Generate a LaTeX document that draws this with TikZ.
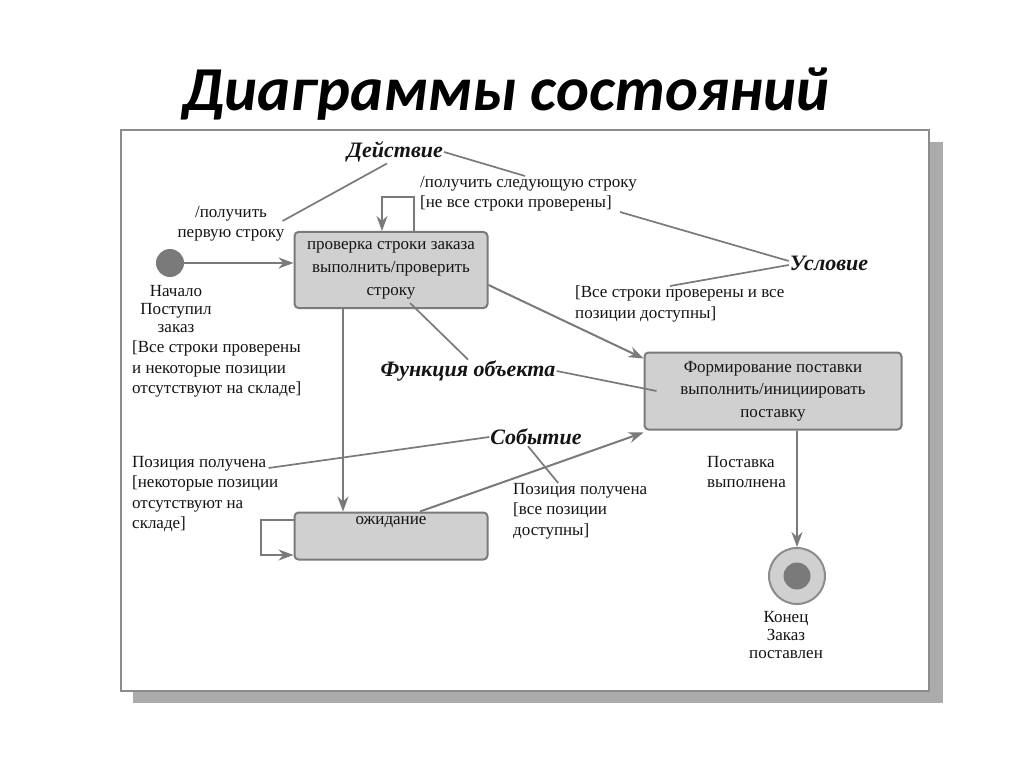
\documentclass[tikz,border=0pt]{standalone}
\usepackage{fontspec}
\setmainfont{Liberation Serif}
\newfontfamily\titlefont{Carlito}
\usetikzlibrary{arrows.meta,positioning}

\definecolor{boxgray}{HTML}{D0D0D0}
\definecolor{linegray}{HTML}{7A7A7A}
\definecolor{framegray}{HTML}{8C8C8C}
\definecolor{shadowgray}{HTML}{ABABAB}
\definecolor{inkgray}{HTML}{141414}

\tikzset{
  statebox/.style={draw=linegray, line width=2pt, fill=boxgray, rounded corners=4pt,
    text=inkgray, inner sep=2pt},
  trans/.style={draw=linegray, line width=2pt, -{Stealth[length=15pt,width=11pt]}},
  note/.style={draw=linegray, line width=1.7pt},
  lbl/.style={font=\fontsize{17}{20.5}\selectfont, text=inkgray, inner sep=0pt},
  kw/.style={font=\fontsize{22}{24}\selectfont\bfseries\itshape, text=inkgray, inner sep=1pt},
}

\begin{document}
\begin{tikzpicture}[x=1pt, y=-1pt]

  \useasboundingbox[fill=white] (0,0) rectangle (1024,767);

  % Title
  \node[font=\titlefont\fontsize{62.5}{66}\selectfont\bfseries\itshape] (title) at (506,94) {Диаграммы состояний};

  % Frame with shadow
  \fill[shadowgray] (133,142) rectangle (943,703);
  \fill[white] (121,130) rectangle (929,691);
  \draw[framegray, line width=1.8pt] (121,130) rectangle (929,691);

  % Initial state
  \node[circle, fill=linegray, minimum size=28pt, inner sep=0pt] (start) at (170,263) {};
  \node[lbl, align=center, anchor=north, font=\fontsize{17}{18}\selectfont] (startlbl) at (176,285) {Начало\\Поступил\\заказ};

  % States
  \node[statebox, minimum width=193pt, minimum height=76pt, align=center,
    font=\fontsize{17}{23}\selectfont] (check) at (391,270) {проверка строки заказа\\выполнить/проверить\\строку};
  \node[statebox, minimum width=257pt, minimum height=77pt, align=center,
    font=\fontsize{17}{22.5}\selectfont] (ship) at (773,391) {Формирование поставки\\выполнить/инициировать\\поставку};
  \node[statebox, minimum width=193pt, minimum height=47pt] (wait) at (391,536) {};
  \node[lbl] (waitlbl) at (391,522) {ожидание};

  % Final state
  \node[circle, draw=framegray, line width=2pt, fill=boxgray, minimum size=56pt, inner sep=0pt] (final) at (797,576) {};
  \node[circle, fill=linegray, minimum size=27pt, inner sep=0pt] (finaldot) at (final.center) {};
  \node[lbl, align=center, anchor=north, font=\fontsize{17}{18}\selectfont] (finallbl) at (786,611) {Конец\\Заказ\\поставлен};

  % Transition labels
  \node[lbl, align=center, anchor=north] (lblFirst) at (231,206) {/получить\\первую строку};
  \node[lbl, align=left, anchor=north west] (lblNext) at (420,176) {/получить следующую строку\\{[}не все строки проверены{]}};
  \node[lbl, align=left, anchor=north west] (lblAll) at (575,286) {{[}Все строки проверены и все\\позиции доступны{]}};
  \node[lbl, align=left, anchor=north west] (lblAllSome) at (132,341) {{[}Все строки проверены\\и некоторые позиции\\отсутствуют на складе{]}};
  \node[lbl, align=left, anchor=north west] (lblGot1) at (132,456) {Позиция получена\\{[}некоторые позиции\\отсутствуют на\\складе{]}};
  \node[lbl, align=left, anchor=north west] (lblGot2) at (513,483) {Позиция получена\\{[}все позиции\\доступны{]}};
  \node[lbl, align=left, anchor=north west] (lblDone) at (707,456) {Поставка\\выполнена};

  % Notions
  \node[kw] (act) at (395,152) {Действие};
  \node[kw] (cond) at (829,263) {Условие};
  \node[kw] (func) at (468,371) {Функция объекта};
  \node[kw] (event) at (536,437) {Событие};

  % Transitions
  \draw[trans] (start) -- (start -| check.west);
  \draw[trans] ([xshift=23pt]check.north) -- ++(0,-34) -| ([xshift=-9pt]check.north);
  \draw[trans] ([yshift=-15pt]check.east) -- ([yshift=-7pt]ship.north west);
  \draw[trans] ([xshift=-48pt]check.south) -- ([xshift=-48pt]wait.north);
  \draw[trans] ([xshift=29pt]wait.north) -- ([yshift=-2pt]ship.south west);
  \draw[trans] ([yshift=16pt]wait.west) -- ++(-33,0) |- ([yshift=-19pt]wait.west);
  \draw[trans] ([xshift=24pt]ship.south) -- (final.north);

  % Pointer lines
  \coordinate (nextend) at (620,212);
  \draw[note] ([xshift=-8pt]act.south) -- ([xshift=-2pt,yshift=-15pt]lblFirst.north east);
  \draw[note] (act.east) -- ([xshift=105pt]lblNext.north west);
  \draw[note] ([yshift=2pt]cond.west) -- (nextend);
  \draw[note] ([yshift=-2pt]cond.west) -- ([xshift=95pt]lblAll.north west);
  \draw[note] (func.north) -- ([xshift=19pt,yshift=6pt]check.south);
  \draw[note] (func.east) -- ([xshift=13pt]ship.west);
  \draw[note] (event.west) -- ([xshift=-10pt,yshift=-12pt]lblGot1.north east);
  \draw[note] ([xshift=-8pt]event.south) -- ([xshift=-22pt]lblGot2.north);

\end{tikzpicture}
\end{document}
